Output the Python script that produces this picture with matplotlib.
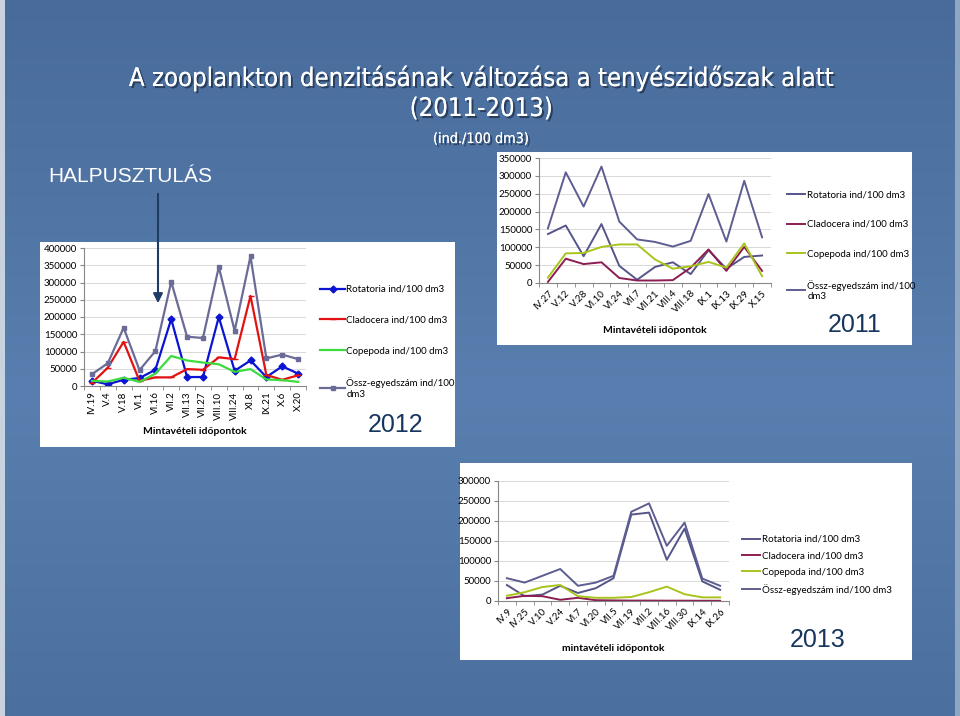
import matplotlib
matplotlib.use("Agg")
import matplotlib.pyplot as plt
import matplotlib.patheffects as pe
from matplotlib import font_manager
from matplotlib.patches import Rectangle
import numpy as np

# 2012
dates_2012 = ["IV.19", "V.4", "V.18", "VI.1", "VI.16", "VII.2", "VII.13", "VII.27",
              "VIII.10", "VIII.24", "XI.8", "IX.21", "X.6", "X.20"]
rot_2012 = [15000, 5000, 18000, 23000, 47000, 194000, 26000, 26000, 200000, 44000, 74000, 26000, 57000, 36000]
clad_2012 = [9000, 53000, 128000, 15000, 25000, 25000, 49000, 47000, 83000, 78000, 261000, 32000, 18000, 31000]
cop_2012 = [15000, 13000, 24000, 12000, 36000, 87000, 74000, 68000, 63000, 41000, 49000, 19000, 17000, 12000]
ossz_2012 = [34000, 66000, 169000, 46000, 101000, 302000, 143000, 139000, 345000, 160000, 376000, 80000, 91000, 78000]

# 2011
dates_2011 = ["IV.27", "V.12", "V.28", "VI.10", "VI.24", "VII.7", "VII.21", "VIII.4",
              "VIII.18", "IX.1", "IX.13", "IX.29", "X.15"]
rot_2011 = [137000, 161000, 75000, 165000, 48000, 9000, 45000, 58000, 25000, 92000, 40000, 73000, 77000]
clad_2011 = [3000, 68000, 53000, 58000, 14000, 7000, 7000, 8000, 43000, 94000, 34000, 101000, 34000]
cop_2011 = [15000, 83000, 84000, 101000, 108000, 108000, 66000, 40000, 47000, 59000, 43000, 111000, 19000]
ossz_2011 = [153000, 310000, 214000, 326000, 172000, 122000, 115000, 102000, 118000, 249000, 116000, 286000, 128000]

# 2013
dates_2013 = ["IV.9", "IV.25", "V.10", "V.24", "VI.7", "VI.20", "VII.5", "VII.19",
              "VIII.2", "VIII.16", "VIII.30", "IX.14", "IX.26"]
rot_2013 = [40000, 12000, 16000, 38000, 20000, 32000, 57000, 216000, 221000, 103000, 181000, 49000, 28000]
clad_2013 = [7000, 13000, 12000, 3000, 8000, 2000, 1500, 1000, 1000, 800, 800, 600, 500]
cop_2013 = [13000, 22000, 35000, 40000, 12000, 8000, 8000, 10000, 22000, 36000, 17000, 9000, 9000]
ossz_2013 = [57000, 46000, 63000, 80000, 38000, 46000, 63000, 223000, 244000, 138000, 196000, 56000, 38000]

labels = ["Rotatoria ind/100 dm3", "Cladocera ind/100 dm3", "Copepoda ind/100 dm3",
          "Össz-egyedszám ind/100\ndm3"]
labels_2013 = ["Rotatoria ind/100 dm3", "Cladocera ind/100 dm3", "Copepoda ind/100 dm3",
               "Össz-egyedszám ind/100 dm3"]

W, H = 960, 716
names = {f.name for f in font_manager.fontManager.ttflist}
chart_font = "Lato" if "Lato" in names else "DejaVu Sans"
plt.rcParams["font.family"] = [chart_font, "DejaVu Sans"]

# narrow font for the slide title, if there is one
title_fp = None
for f in font_manager.fontManager.ttflist:
    low = f.fname.lower()
    if ("condensed" in low or "narrow" in low) and "mono" not in low and "serif" not in low \
            and "bold" not in low and "italic" not in low and "oblique" not in low and "light" not in low:
        title_fp = f.fname
        break


def title_text(x, y, s, size):
    kw = dict(ha="center", va="center", color="white", fontsize=size, path_effects=shadow)
    if title_fp:
        return bg.text(x, y, s, fontproperties=font_manager.FontProperties(fname=title_fp, size=size), **kw)
    return bg.text(x, y, s, family=["Liberation Sans", "DejaVu Sans"], **kw)


def px_rect(left, top, right, bottom):
    return [left / W, 1 - bottom / H, (right - left) / W, (bottom - top) / H]


def style_axes(ax, dates, ymax, step, rot):
    n = len(dates)
    ax.set_xlim(-0.5, n - 0.5)
    ax.set_ylim(0, ymax)
    ax.set_yticks(np.arange(0, ymax + 1, step))
    ax.set_yticklabels([str(int(v)) for v in np.arange(0, ymax + 1, step)])
    ax.set_xticks(range(n))
    if rot == 90:
        ax.set_xticklabels(dates, rotation=90)
    else:
        ax.set_xticklabels(dates, rotation=45, ha="right", rotation_mode="anchor")
    ax.set_xticks(np.arange(-0.5, n, 1), minor=True)
    ax.tick_params(axis="x", which="major", length=0, labelsize=7, pad=4)
    ax.tick_params(axis="x", which="minor", length=3, color="#868686")
    ax.tick_params(axis="y", length=3, color="#868686", labelsize=7, pad=2)
    ax.grid(axis="y", color="#d9d9d9", lw=0.7)
    ax.set_axisbelow(True)
    for s in ["top", "right"]:
        ax.spines[s].set_visible(False)
    for s in ["left", "bottom"]:
        ax.spines[s].set_color("#868686")
        ax.spines[s].set_linewidth(0.8)
    ax.set_facecolor("none")


fig = plt.figure(figsize=(9.6, 7.16), dpi=100)

# background
bg = fig.add_axes([0, 0, 1, 1])
grad = np.linspace(0, 1, H)
top_c = np.array([0x48, 0x6b, 0x9b]) / 255
mid_c = np.array([0x58, 0x7f, 0xaf]) / 255
bot_c = np.array([0x4b, 0x70, 0x9f]) / 255
prof = np.where(grad[:, None] < 0.55,
                top_c + (mid_c - top_c) * (grad[:, None] / 0.55),
                mid_c + (bot_c - mid_c) * ((grad[:, None] - 0.55) / 0.45))
img = np.repeat(prof[:, None, :], W, axis=1)
bg.imshow(img, extent=[0, W, H, 0], aspect="auto")
bg.set_xlim(0, W)
bg.set_ylim(H, 0)
bg.axis("off")
# light slide edges
bg.add_patch(Rectangle((0, 0), 5, H, facecolor="#c9d3df", edgecolor="none"))
bg.add_patch(Rectangle((955, 0), 5, H, facecolor="#8fa6c2", edgecolor="none"))

# white panels
for (x0, y0, x1, y1) in [(40, 242, 455, 447), (497, 152, 912, 345), (460, 463, 912, 660)]:
    bg.add_patch(Rectangle((x0, y0), x1 - x0, y1 - y0, facecolor="white", edgecolor="none"))

shadow = [pe.withSimplePatchShadow(offset=(1.5, -1.5), shadow_rgbFace="#1a2a40", alpha=0.7), pe.Normal()]
t1 = title_text(481, 78, "A zooplankton denzitásának változása a tenyészidőszak alatt", 25)
t2 = title_text(481, 109, "(2011-2013)", 25)
t3 = title_text(481, 139, "(ind./100 dm3)", 14)
# fit the main title to its width in the reference
fig.canvas.draw()
wpx = t1.get_window_extent().width
if wpx > 0:
    k = 707.0 / wpx
    t1.set_fontsize(25 * k)
    t2.set_fontsize(25 * k)
    t3.set_fontsize(14 * k)

bg.text(48, 176, "HALPUSZTULÁS", ha="left", va="center", color="white", fontsize=15,
        family=["Liberation Sans", "DejaVu Sans"])

# 2012 chart
ax12 = fig.add_axes(px_rect(84, 248, 306, 386))
ax12.plot(range(len(dates_2012)), rot_2012, color="#0a14d2", lw=1.6, marker="D", ms=3.5)
ax12.plot(range(len(dates_2012)), clad_2012, color="#e31212", lw=1.6, marker="_", ms=4)
ax12.plot(range(len(dates_2012)), cop_2012, color="#3ddc3d", lw=1.6)
ax12.plot(range(len(dates_2012)), ossz_2012, color="#6b6b98", lw=1.6, marker="s", ms=3.2)
style_axes(ax12, dates_2012, 400000, 50000, 90)
ax12.set_xlabel("Mintavételi időpontok", fontsize=7.5, fontweight="bold", labelpad=5)
ax12.legend(labels, loc="upper left", bbox_to_anchor=(320 / W, 1 - 285 / H),
            bbox_transform=fig.transFigure, frameon=False, fontsize=7, borderpad=0,
            borderaxespad=0, handlelength=2.6, handletextpad=0.1, labelspacing=2.25)
bg.text(396, 425, "2012", ha="center", va="center", fontsize=18, color="#17365d",
        family=["Liberation Sans", "DejaVu Sans"])

# 2011 chart
ax11 = fig.add_axes(px_rect(539, 158, 771, 283))
ax11.plot(range(len(dates_2011)), rot_2011, color="#55558a", lw=1.4)
ax11.plot(range(len(dates_2011)), clad_2011, color="#8c1c52", lw=1.4)
ax11.plot(range(len(dates_2011)), cop_2011, color="#a8c41c", lw=1.4)
ax11.plot(range(len(dates_2011)), ossz_2011, color="#5d5d92", lw=1.4)
style_axes(ax11, dates_2011, 350000, 50000, 45)
ax11.set_xlabel("Mintavételi időpontok", fontsize=7.5, fontweight="bold", labelpad=8)
ax11.legend(labels, loc="upper left", bbox_to_anchor=(787 / W, 1 - 190 / H),
            bbox_transform=fig.transFigure, frameon=False, fontsize=7, borderpad=0,
            borderaxespad=0, handlelength=1.9, handletextpad=0.2, labelspacing=2.15)
bg.text(855, 325, "2011", ha="center", va="center", fontsize=18, color="#17365d",
        family=["Liberation Sans", "DejaVu Sans"])

# 2013 chart
ax13 = fig.add_axes(px_rect(498, 481, 729, 601))
ax13.plot(range(len(dates_2013)), rot_2013, color="#55558a", lw=1.4)
ax13.plot(range(len(dates_2013)), clad_2013, color="#8c1c52", lw=1.4)
ax13.plot(range(len(dates_2013)), cop_2013, color="#a8c41c", lw=1.4)
ax13.plot(range(len(dates_2013)), ossz_2013, color="#5d5d92", lw=1.4)
style_axes(ax13, dates_2013, 300000, 50000, 45)
ax13.set_xlabel("mintavételi időpontok", fontsize=7.5, fontweight="bold", labelpad=8)
ax13.legend(labels_2013, loc="upper left", bbox_to_anchor=(742 / W, 1 - 535 / H),
            bbox_transform=fig.transFigure, frameon=False, fontsize=7, borderpad=0,
            borderaxespad=0, handlelength=1.9, handletextpad=0.2, labelspacing=0.75)
bg.text(818, 640, "2013", ha="center", va="center", fontsize=18, color="#17365d",
        family=["Liberation Sans", "DejaVu Sans"])

# arrow over the 2012 chart
top = fig.add_axes([0, 0, 1, 1], facecolor="none")
top.set_xlim(0, W)
top.set_ylim(H, 0)
top.axis("off")
top.annotate("", xy=(158, 306), xytext=(158, 191),
             arrowprops=dict(arrowstyle="-|>", color="#1f3c64", lw=1.5, mutation_scale=14))

plt.savefig("out.png", dpi=100)
